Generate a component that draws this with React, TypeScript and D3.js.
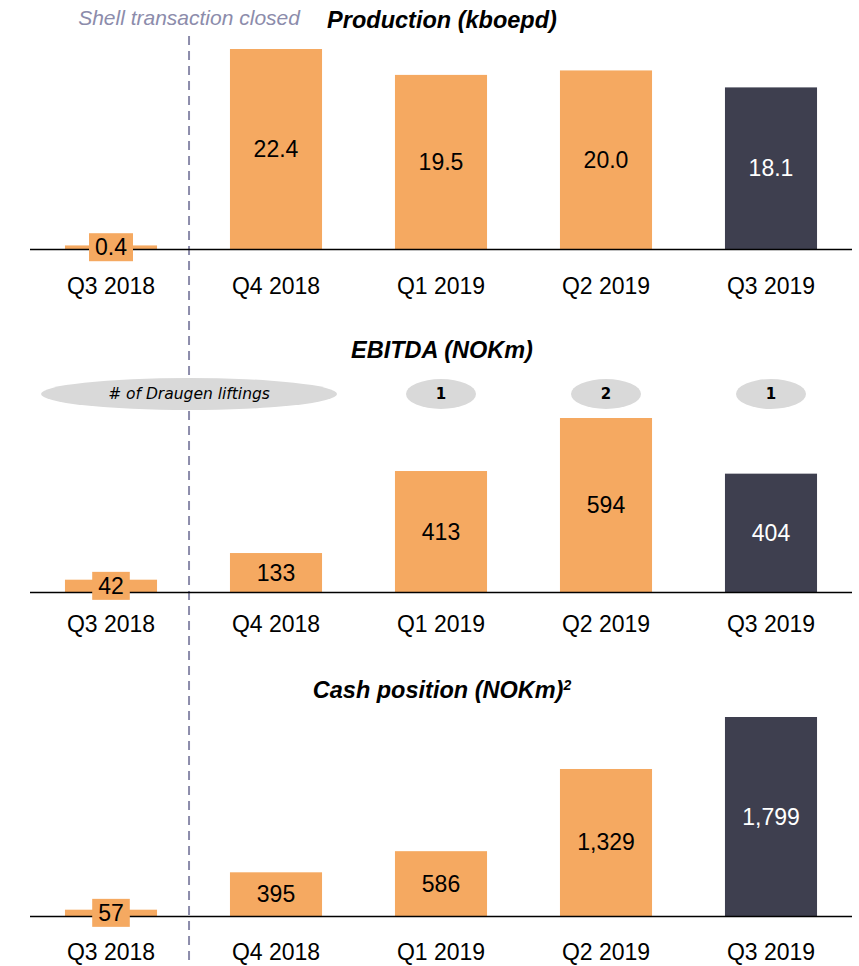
import {useRef, useEffect} from 'react';
import * as d3 from 'd3';

const CATEGORIES = ['Q3 2018', 'Q4 2018', 'Q1 2019', 'Q2 2019', 'Q3 2019'];
const PRODUCTION = [0.4, 22.4, 19.5, 20.0, 18.1];
const PRODUCTION_LABELS = ['0.4', '22.4', '19.5', '20.0', '18.1'];
const EBITDA = [42, 133, 413, 594, 404];
const EBITDA_LABELS = ['42', '133', '413', '594', '404'];
const CASH = [57, 395, 586, 1329, 1799];
const CASH_LABELS = ['57', '395', '586', '1,329', '1,799'];
const LIFTINGS = [null, null, 1, 2, 1];

const ORANGE = '#f5a961';
const DARK = '#3e3f4f';
const FONT = 'Liberation Sans, Arial, sans-serif';

export default function App() {
    const svgRef = useRef(null);

    const CHART_PARAMS = {
        width: 859,
        height: 966,
        panels: [
            {title: 'Production (kboepd)', sup: '', values: PRODUCTION, labels: PRODUCTION_LABELS, base: 249, top: 49, titleY: 28, catY: 294},
            {title: 'EBITDA (NOKm)', sup: '', values: EBITDA, labels: EBITDA_LABELS, base: 592, top: 418, titleY: 358, catY: 632},
            {title: 'Cash position (NOKm)', sup: '2', values: CASH, labels: CASH_LABELS, base: 916, top: 717, titleY: 698, catY: 960}
        ]
    };

    useEffect(() => {
        const svg = d3.select(svgRef.current);
        svg.selectAll('*').remove();

        const xScale = d3.scaleBand()
            .domain(CATEGORIES)
            .range([28.5, 853.5])
            .paddingInner(0.442)
            .paddingOuter(0.221);

        const dividerX = xScale('Q3 2018') + xScale.bandwidth() + 32;

        // dashed divider sits behind everything else
        svg.append('line')
            .attr('x1', dividerX).attr('x2', dividerX)
            .attr('y1', 36).attr('y2', CHART_PARAMS.height)
            .attr('stroke', '#8c8cab')
            .attr('stroke-width', 2)
            .attr('stroke-dasharray', '9,6');

        svg.append('text')
            .attr('x', dividerX)
            .attr('y', 25)
            .attr('text-anchor', 'middle')
            .attr('font-family', FONT)
            .attr('font-style', 'italic')
            .attr('font-size', 21)
            .attr('fill', '#8c8cab')
            .text('Shell transaction closed');

        CHART_PARAMS.panels.forEach((p) => {
            const yScale = d3.scaleLinear()
                .domain([0, d3.max(p.values)])
                .range([p.base, p.top]);

            const g = svg.append('g');

            const title = g.append('text')
                .attr('x', 442)
                .attr('y', p.titleY)
                .attr('text-anchor', 'middle')
                .attr('font-family', FONT)
                .attr('font-style', 'italic')
                .attr('font-weight', 'bold')
                .attr('font-size', 23.5)
                .attr('fill', '#000');
            title.append('tspan').text(p.title);
            if (p.sup) {
                title.append('tspan')
                    .attr('font-size', 14)
                    .attr('dy', -8)
                    .text(p.sup);
            }

            g.selectAll('rect.bar')
                .data(p.values)
                .enter().append('rect')
                .attr('class', 'bar')
                .attr('x', (_, i) => xScale(CATEGORIES[i]))
                .attr('width', xScale.bandwidth())
                .attr('y', (d) => yScale(d))
                .attr('height', (d) => p.base - yScale(d))
                .attr('fill', (_, i) => i === CATEGORIES.length - 1 ? DARK : ORANGE);

            g.append('line')
                .attr('x1', 30).attr('x2', 852)
                .attr('y1', p.base + 0.5).attr('y2', p.base + 0.5)
                .attr('stroke', '#000')
                .attr('stroke-width', 1.5);

            p.values.forEach((d, i) => {
                const cx = xScale(CATEGORIES[i]) + xScale.bandwidth() / 2;
                const small = p.base - yScale(d) < 30;
                const cy = (yScale(d) + p.base) / 2;

                const label = g.append('text')
                    .attr('x', cx)
                    .attr('y', cy)
                    .attr('text-anchor', 'middle')
                    .attr('dominant-baseline', 'central')
                    .attr('font-family', FONT)
                    .attr('font-size', 23)
                    .attr('fill', i === CATEGORIES.length - 1 ? '#fff' : '#000')
                    .text(p.labels[i]);

                if (small) {
                    const w = label.node().getComputedTextLength() + 12;
                    g.insert('rect', () => label.node())
                        .attr('x', cx - w / 2)
                        .attr('y', cy - 14)
                        .attr('width', w)
                        .attr('height', 28)
                        .attr('fill', ORANGE);
                }

                g.append('text')
                    .attr('x', cx)
                    .attr('y', p.catY)
                    .attr('text-anchor', 'middle')
                    .attr('font-family', FONT)
                    .attr('font-size', 23)
                    .attr('fill', '#000')
                    .text(CATEGORIES[i]);
            });
        });

        // liftings bubbles above the EBITDA panel
        const bubbleY = 394;
        svg.append('ellipse')
            .attr('cx', dividerX).attr('cy', bubbleY)
            .attr('rx', 148).attr('ry', 16)
            .attr('fill', '#d9d9d9');
        svg.append('text')
            .attr('x', dividerX).attr('y', bubbleY)
            .attr('text-anchor', 'middle')
            .attr('dominant-baseline', 'central')
            .attr('font-family', 'DejaVu Sans, Verdana, sans-serif')
            .attr('font-style', 'italic')
            .attr('font-size', 15.5)
            .attr('fill', '#000')
            .text('# of Draugen liftings');

        LIFTINGS.forEach((n, i) => {
            if (n === null) return;
            const cx = xScale(CATEGORIES[i]) + xScale.bandwidth() / 2;
            svg.append('ellipse')
                .attr('cx', cx).attr('cy', bubbleY)
                .attr('rx', 35).attr('ry', 15)
                .attr('fill', '#d9d9d9');
            svg.append('text')
                .attr('x', cx).attr('y', bubbleY)
                .attr('text-anchor', 'middle')
                .attr('dominant-baseline', 'central')
                .attr('font-family', 'DejaVu Sans, Verdana, sans-serif')
                .attr('font-weight', 'bold')
                .attr('font-size', 15)
                .attr('fill', '#000')
                .text(n);
        });
    }, []);

    return (
        <svg ref={svgRef}
            width={CHART_PARAMS.width}
            height={CHART_PARAMS.height}
            style={{position: 'absolute', left: 0, top: 0, background: '#fff'}} />
    );
}
